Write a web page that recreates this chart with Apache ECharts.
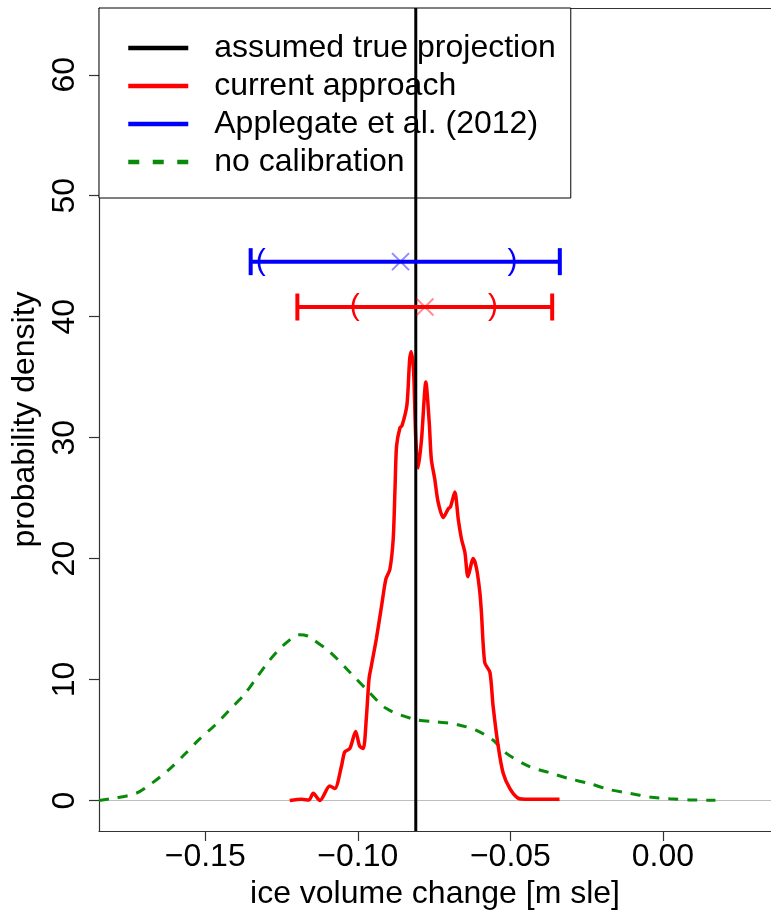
<!DOCTYPE html>
<html>
<head>
<meta charset="utf-8">
<script src="https://cdn.jsdelivr.net/npm/echarts@6/dist/echarts.min.js"></script>
<style>
html, body { margin: 0; padding: 0; background: #fff; }
#chart { width: 771px; height: 916px; }
</style>
</head>
<body>
<div id="chart"></div>
<script>
// axis ranges and ticks
var xMin = -0.1848, xMax = 0.0354;
var yMin = -2.52, yMax = 65.52;
var xTicks = [-0.15, -0.10, -0.05, 0.00];
var yTicks = [0, 10, 20, 30, 40, 50, 60];

// "assumed true projection"
var trueValue = -0.081;

// current approach: density curve
var redX = [-0.1223, -0.1184, -0.1160, -0.1146, -0.1124, -0.1092, -0.1075, -0.1053, -0.1043, -0.1026,
  -0.1007, -0.0994, -0.0982, -0.0972, -0.0963, -0.0955, -0.0939, -0.0922, -0.0908, -0.0895,
  -0.0884, -0.0878, -0.0873, -0.0862, -0.0855, -0.0839, -0.0830, -0.0825, -0.0817, -0.0810,
  -0.0802, -0.0791, -0.0777, -0.0766, -0.0759, -0.0748, -0.0737, -0.0720, -0.0704, -0.0696,
  -0.0682, -0.0671, -0.0660, -0.0649, -0.0639, -0.0622, -0.0611, -0.0600, -0.0595, -0.0584,
  -0.0567, -0.0557, -0.0540, -0.0524, -0.0502, -0.0475, -0.0440, -0.0404, -0.0339];
var redY = [0.0, 0.1, 0.05, 0.6, 0.0, 1.2, 1.0, 2.9, 4.0, 4.3,
  5.7, 4.5, 4.3, 6.8, 10.1, 11.2, 13.4, 16.1, 18.3, 19.1,
  21.6, 25.8, 29.3, 30.8, 31.0, 32.7, 36.5, 37.1, 35.4, 29.9,
  27.5, 29.9, 34.6, 31.3, 28.2, 26.6, 24.7, 23.4, 24.1, 24.3,
  25.5, 23.3, 21.6, 20.5, 18.5, 20.0, 19.2, 17.2, 15.6, 11.4,
  10.6, 7.9, 4.5, 2.3, 1.0, 0.2, 0.1, 0.1, 0.1];

// no calibration: density curve
var greenX = [-0.1848, -0.1797, -0.1726, -0.1671, -0.1617, -0.1568, -0.1518, -0.1469, -0.1420, -0.1374,
  -0.1333, -0.1289, -0.1245, -0.1191, -0.1164, -0.1146, -0.1092, -0.1026, -0.0972, -0.0906,
  -0.0813, -0.0742, -0.0677, -0.0611, -0.0557, -0.0513, -0.0437, -0.0372, -0.0306, -0.0241,
  -0.0175, -0.0109, -0.0044, 0.0022, 0.0087, 0.0172];
var greenY = [0.0, 0.2, 0.6, 1.5, 2.6, 3.8, 5.1, 6.2, 7.5, 8.7,
  10.1, 11.6, 12.8, 13.7, 13.6, 13.3, 12.3, 10.6, 9.2, 7.6,
  6.7, 6.5, 6.3, 5.8, 5.0, 3.9, 2.8, 2.3, 1.8, 1.4,
  0.9, 0.6, 0.3, 0.15, 0.05, 0.02];

// interval bars: Applegate et al. (2012), current approach
var ciY = [44.55, 40.8];
var ciMid = [-0.086, -0.078];
var ciLo = [-0.1351, -0.1198];
var ciHi = [-0.0338, -0.0363];
var ciInnerLo = [-0.1318, -0.1010];
var ciInnerHi = [-0.0493, -0.0557];
var ciColors = ['#0000ff', '#ff0000'];
var ciCrossColors = ['rgba(0,0,255,0.45)', 'rgba(255,0,0,0.45)'];

var FONT = 'Liberation Sans';

function pairs(xs, ys) {
  return xs.map(function (x, i) { return [x, ys[i]]; });
}

var ciData = ciY.map(function (y, i) {
  return [ciMid[i], y, ciLo[i], ciHi[i], ciInnerLo[i], ciInnerHi[i]];
});

function fmtX(v) {
  var s = Math.abs(v).toFixed(2);
  return v < -1e-9 ? '\u2212' + s : s;
}

function renderCI(params, api) {
  var i = params.dataIndex;
  var c = ciColors[i];
  var y = api.value(1);
  var lo = api.coord([api.value(2), y]);
  var hi = api.coord([api.value(3), y]);
  var il = api.coord([api.value(4), y]);
  var ih = api.coord([api.value(5), y]);
  var m = api.coord([api.value(0), y]);
  var h = 13.5, s = 8.5;
  var st = { stroke: c, lineWidth: 4 };
  var cx = { stroke: ciCrossColors[i], lineWidth: 2 };
  return {
    type: 'group',
    children: [
      { type: 'line', shape: { x1: lo[0], y1: lo[1], x2: hi[0], y2: hi[1] }, style: st },
      { type: 'line', shape: { x1: lo[0], y1: lo[1] - h, x2: lo[0], y2: lo[1] + h }, style: st },
      { type: 'line', shape: { x1: hi[0], y1: hi[1] - h, x2: hi[0], y2: hi[1] + h }, style: st },
      { type: 'text', x: il[0], y: il[1], style: { text: '(', fill: c, font: '30px "' + FONT + '"', align: 'center', verticalAlign: 'middle' } },
      { type: 'text', x: ih[0], y: ih[1], style: { text: ')', fill: c, font: '30px "' + FONT + '"', align: 'center', verticalAlign: 'middle' } },
      { type: 'line', shape: { x1: m[0] - s, y1: m[1] - s, x2: m[0] + s, y2: m[1] + s }, style: cx },
      { type: 'line', shape: { x1: m[0] - s, y1: m[1] + s, x2: m[0] + s, y2: m[1] - s }, style: cx }
    ]
  };
}

var myChart = echarts.init(document.getElementById('chart'));
var option = {
  backgroundColor: '#fff',
  animation: false,
  grid: { left: 99, top: 8, right: 0, bottom: 85 },
  legend: {
    data: [
      'assumed true projection',
      'current approach',
      'Applegate et al. (2012)',
      { name: 'no calibration', lineStyle: { type: [11, 13.5] } }
    ],
    orient: 'vertical',
    left: 99,
    top: 8,
    padding: [21, 15, 17, 27],
    itemGap: 0,
    itemWidth: 60,
    itemHeight: 14,
    backgroundColor: '#fff',
    borderColor: '#000',
    borderWidth: 1,
    borderRadius: 0,
    itemStyle: { opacity: 0 },
    lineStyle: { width: 4.5 },
    textStyle: { fontFamily: FONT, fontSize: 32, lineHeight: 38, color: '#000', padding: [0, 0, 0, 21] }
  },
  xAxis: [{
    type: 'value',
    min: xMin,
    max: xMax,
    name: 'ice volume change [m sle]',
    nameLocation: 'middle',
    nameGap: 47,
    nameTextStyle: { fontFamily: FONT, fontSize: 32, color: '#000' },
    axisLine: { show: true, onZero: false, lineStyle: { color: '#333', width: 1.2 } },
    axisTick: { show: true, length: 10, customValues: xTicks, lineStyle: { color: '#333', width: 1.2 } },
    axisLabel: { customValues: xTicks, formatter: fmtX, margin: 10, fontFamily: FONT, fontSize: 32, color: '#000' },
    splitLine: { show: false }
  }, {
    type: 'value',
    position: 'top',
    min: xMin,
    max: xMax,
    axisLine: { show: true, onZero: false, lineStyle: { color: '#333', width: 1.2 } },
    axisTick: { show: false },
    axisLabel: { show: false },
    splitLine: { show: false }
  }],
  yAxis: {
    type: 'value',
    min: yMin,
    max: yMax,
    name: 'probability density',
    nameLocation: 'middle',
    nameGap: 56,
    nameRotate: 90,
    nameTextStyle: { fontFamily: FONT, fontSize: 32, color: '#000' },
    axisLine: { show: true, onZero: false, lineStyle: { color: '#333', width: 1.2 } },
    axisTick: { show: true, length: 10, customValues: yTicks, lineStyle: { color: '#333', width: 1.2 } },
    axisLabel: { customValues: yTicks, rotate: 90, margin: 18, fontFamily: FONT, fontSize: 32, color: '#000' },
    splitLine: { show: false }
  },
  series: [
    {
      name: 'zero',
      type: 'line',
      data: [[xMin, 0], [xMax, 0]],
      symbol: 'none',
      silent: true,
      lineStyle: { color: '#bebebe', width: 1 },
      z: 1
    },
    {
      name: 'no calibration',
      type: 'line',
      data: pairs(greenX, greenY),
      symbol: 'none',
      smooth: 0.3,
      color: '#0a8a0a',
      lineStyle: { color: '#0a8a0a', width: 3, type: [10, 9] },
      z: 2
    },
    {
      name: 'current approach',
      type: 'line',
      data: pairs(redX, redY),
      symbol: 'none',
      smooth: 0.25,
      color: '#ff0000',
      lineStyle: { color: '#ff0000', width: 3.5 },
      z: 3
    },
    {
      name: 'assumed true projection',
      type: 'line',
      data: [[trueValue, yMin], [trueValue, yMax]],
      symbol: 'none',
      color: '#000',
      lineStyle: { color: '#000', width: 3 },
      z: 4
    },
    {
      name: 'Applegate et al. (2012)',
      type: 'line',
      data: [],
      symbol: 'none',
      color: '#0000ff',
      lineStyle: { color: '#0000ff', width: 3 }
    },
    {
      name: 'intervals',
      type: 'custom',
      renderItem: renderCI,
      data: ciData,
      encode: { x: [0, 2, 3, 4, 5], y: 1 },
      z: 5
    }
  ]
};

myChart.setOption(option);
</script>
</body>
</html>
